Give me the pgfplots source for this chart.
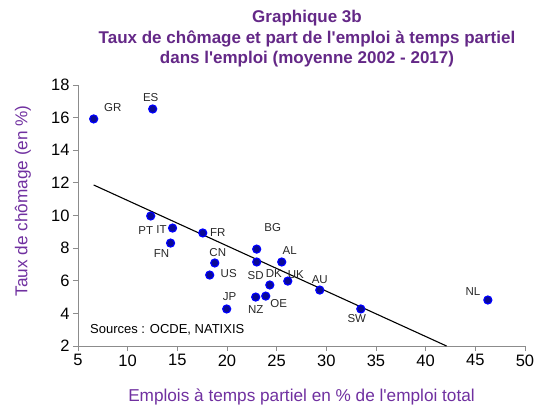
\documentclass[border=0pt]{standalone}
\usepackage{pgfplots}
\pgfplotsset{compat=1.18}
\usepackage{fontspec}
\setmainfont{Liberation Sans}
\definecolor{ttl}{RGB}{100,40,135}
\definecolor{lab}{RGB}{112,48,160}
\definecolor{dotfill}{RGB}{10,10,150}
\definecolor{dotedge}{RGB}{0,0,255}
\definecolor{txt}{RGB}{40,40,40}
\newcommand{\q}{\textquotesingle}
\begin{document}
\begin{tikzpicture}
\begin{axis}[
  at={(0pt,0pt)}, anchor=south west,
  scale only axis, width=447pt, height=261pt,
  xmin=5, xmax=50, ymin=2, ymax=18,
  xtick={5,10,...,50}, ytick={2,4,...,18},
  axis x line*=bottom, axis y line*=left,
  axis line style={draw=gray!90, line width=0.8pt, -},
  tick style={draw=gray!90, line width=0.8pt},
  tick align=outside, major tick length=5pt,
  ticklabel style={font=\fontsize{16.5}{19}\selectfont, text=black},
  /pgf/number format/assume math mode=true,
  xlabel={Emplois à temps partiel en \% de l\q emploi total},
  ylabel={Taux de chômage (en \%)},
  label style={font=\fontsize{17.2}{20}\selectfont, text=lab},
  xlabel style={at={(axis description cs:0.5,-0.195)}, anchor=center},
  ylabel style={at={(axis description cs:-0.123,0.556)}, anchor=center},
  clip=false,
]
\addplot[black, line width=1.1pt] coordinates {(6.58,11.87) (42.1,2)};
\addplot[only marks, mark=*, mark size=4pt, mark options={fill=dotfill, draw=dotedge, line width=1.2pt}] coordinates {
(6.58,15.92) (12.52,16.53) (12.32,9.97) (14.52,9.23) (14.32,8.31) (17.56,8.93)
(22.99,7.94) (22.99,7.15) (25.51,7.15) (18.77,7.09) (18.26,6.35) (24.31,5.74)
(26.12,5.98) (29.34,5.43) (23.90,5.06) (22.89,5.00) (19.97,4.27) (33.47,4.27) (46.26,4.82)
};
\tikzset{lbl/.style={font=\fontsize{11.5}{13}\selectfont, text=txt, inner sep=0pt}}
\node[lbl, xshift=19pt, yshift=11pt] at (axis cs:6.58,15.92) {GR};
\node[lbl, xshift=-2pt, yshift=11pt] at (axis cs:12.52,16.53) {ES};
\node[lbl, xshift=-5pt, yshift=-15pt] at (axis cs:12.32,9.97) {PT};
\node[lbl, xshift=-11pt, yshift=-1pt] at (axis cs:14.52,9.23) {IT};
\node[lbl, xshift=-9pt, yshift=-10pt] at (axis cs:14.32,8.31) {FN};
\node[lbl, xshift=15pt, yshift=0pt] at (axis cs:17.56,8.93) {FR};
\node[lbl, xshift=16pt, yshift=22pt] at (axis cs:22.99,7.94) {BG};
\node[lbl, xshift=-1pt, yshift=-14pt] at (axis cs:22.99,7.15) {SD};
\node[lbl, xshift=8pt, yshift=11pt] at (axis cs:25.51,7.15) {AL};
\node[lbl, xshift=3pt, yshift=10pt] at (axis cs:18.77,7.09) {CN};
\node[lbl, xshift=19pt, yshift=2pt] at (axis cs:18.26,6.35) {US};
\node[lbl, xshift=4pt, yshift=11pt] at (axis cs:24.31,5.74) {DK};
\node[lbl, xshift=8pt, yshift=6pt] at (axis cs:26.12,5.98) {UK};
\node[lbl, xshift=0pt, yshift=10pt] at (axis cs:29.34,5.43) {AU};
\node[lbl, xshift=13pt, yshift=-7pt] at (axis cs:23.90,5.06) {OE};
\node[lbl, xshift=0pt, yshift=-12pt] at (axis cs:22.89,5.00) {NZ};
\node[lbl, xshift=3pt, yshift=12pt] at (axis cs:19.97,4.27) {JP};
\node[lbl, xshift=-4pt, yshift=-10pt] at (axis cs:33.47,4.27) {SW};
\node[lbl, xshift=-15pt, yshift=8pt] at (axis cs:46.26,4.82) {NL};
\node[font=\fontsize{13}{15}\selectfont, text=black, anchor=west, inner sep=0pt, xshift=12pt, yshift=16pt] at (rel axis cs:0,0) {Sources : OCDE, NATIXIS};
\end{axis}
\node[font=\bfseries\fontsize{17}{20.5}\selectfont, text=ttl, align=center, anchor=center] at (229pt,307pt)
  {Graphique 3b\\Taux de chômage et part de l\q emploi à temps partiel\\dans l\q emploi (moyenne 2002 - 2017)};
\pgfresetboundingbox
\path[use as bounding box] (-78pt,-59pt) rectangle (458pt,346pt);
\end{tikzpicture}
\end{document}
